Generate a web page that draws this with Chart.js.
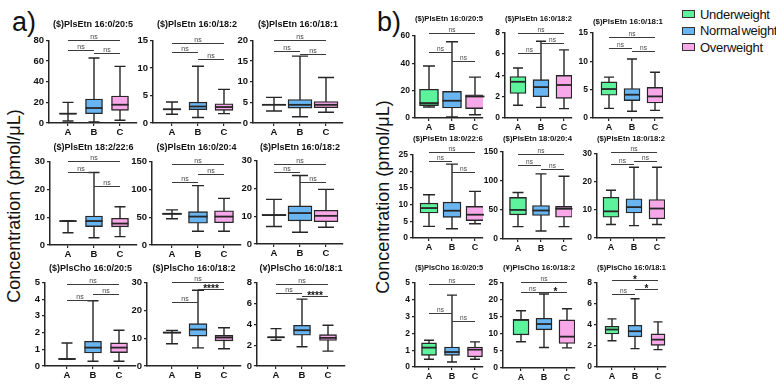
<!DOCTYPE html>
<html>
<head>
<meta charset="utf-8">
<script src="https://cdn.jsdelivr.net/npm/chart.js@4.4.1/dist/chart.umd.min.js"></script>
<style>
  body { margin: 0; width: 776px; height: 384px; position: relative; background: #fff; overflow: hidden;
         font-family: 'Liberation Sans', Arial, sans-serif; color: #111; }
  canvas { position: absolute; }
  .tag { position: absolute; font-size: 27px; line-height: 30px; }
  .ytitle { position: absolute; width: 320px; text-align: center; white-space: nowrap; transform: rotate(-90deg);
            font-size: 18px; line-height: 22px; }
  .legend { position: absolute; left: 682px; top: 6px; font-size: 13px; letter-spacing: -0.3px; word-spacing: -2px; }
  .legend div { height: 16.5px; display: flex; align-items: center; white-space: nowrap; }
  .legend span { display: inline-block; width: 11px; height: 6px; border: 1.5px solid #333; margin-right: 5px; }
</style>
</head>
<body>
<div class="tag" style="left:12px; top:7px;">a)</div>
<div class="tag" style="left:377px; top:7px;">b)</div>
<div class="ytitle" style="left:-146px; top:195px;">Concentration (pmol/μL)</div>
<div class="ytitle" style="left:223px; top:186px;">Concentration (pmol/μL)</div>
<div class="legend" id="legend"></div>
<script>
// groups and legend
const groups = ['A', 'B', 'C'];
const legendLabels = ['Underweight', 'Normal weight', 'Overweight'];

const titlesA = ['($)PlsEtn 16:0/20:5', '($)PlsEtn 16:0/18:2', '($)PlsEtn 16:0/18:1',
  '($)PlsEtn 18:2/22:6', '($)PlsEtn 16:0/20:4', '($)PlsEtn 16:0/18:2',
  '($)PlsCho 16:0/20:5', '($)PlsCho 16:0/18:2', '(¥)PlsCho 16:0/18:1'];
const titlesB = ['($)PlsEtn 16:0/20:5', '($)PlsEtn 16:0/18:2', '($)PlsEtn 16:0/18:1',
  '($)PlsEtn 18:0/22:6', '($)PlsEtn 18:0/20:4', '($)PlsEtn 18:0/18:2',
  '($)PlsCho 16:0/20:5', '(¥)PlsCho 16:0/18:2', '($)PlsCho 16:0/18:1'];

// y axis max and tick step of each subplot
const yMaxA = [80, 15, 20, 30, 150, 30, 5, 30, 8];
const yStepA = [20, 5, 5, 10, 50, 10, 1, 10, 2];
const yMaxB = [60, 8, 15, 25, 150, 30, 5, 25, 8];
const yStepB = [20, 2, 5, 5, 50, 10, 1, 5, 2];

// panel a) box stats, one [A, B, C] row per subplot
const loA = [[2, 1, 2.6], [1.6, 1, 1.7], [2.9, 1.5, 2.6], [4.4, 2.6, 3], [47, 24.7, 24.7],
  [6.3, 4.2, 6], [0.4, 0.28, 0.28], [8, 6.5, 6.2], [2.47, 1.84, 1.42]];
const q1A = [[8.7, 9, 12.3], [2.45, 2.4, 2.3], [4.35, 3.6, 3.7], [8.5, 6.6, 6.5], [55, 39, 40],
  [10.2, 8.3, 8], [0.4, 0.78, 0.8], [11.8, 10.7, 9], [2.72, 2.94, 2.44]];
const medA = [[9, 14.5, 17.7], [2.5, 3, 2.9], [4.4, 4.4, 4.4], [8.6, 8.6, 7.7], [56, 51, 51],
  [10.4, 11.1, 10.1], [0.42, 1.1, 1.1], [12, 13.1, 10.2], [2.75, 3.42, 2.69]];
const q3A = [[9.3, 23.2, 26.1], [2.55, 3.8, 3.5], [4.45, 5.7, 5.2], [8.7, 10.4, 9.6], [57, 60, 61.4],
  [10.6, 13.7, 12.1], [0.44, 1.48, 1.38], [12.2, 15.2, 11], [2.78, 3.9, 3]];
const hiA = [[20, 63, 54.8], [3.8, 10.3, 6.1], [6.2, 16.2, 11], [8.7, 26, 13.7], [63, 106.6, 83.7],
  [16, 24.6, 19.6], [1.38, 3.9, 2.14], [12.8, 27.2, 13.7], [3.58, 6.4, 3.9]];

// panel b)
const loB = [[8, 0.7, 2.4], [1.2, 1, 0.88], [1.7, 1.18, 1.35], [3.5, 2.8, 4.3], [21.3, 13.8, 21.3],
  [4.8, 4.4, 4.8], [0.46, 0.3, 0.46], [7.7, 6, 5.9], [2.5, 1.75, 1.65]];
const q1B = [[9, 7.3, 6.8], [2.3, 2, 1.85], [4, 3.06, 2.65], [7.5, 6.2, 5.2], [41.5, 40.4, 37.5],
  [7.4, 8.9, 6.8], [0.69, 0.69, 0.6], [9.7, 11.2, 7.2], [3.14, 2.86, 2.06]];
const medB = [[10.9, 12.6, 15.7], [3.4, 2.9, 3.1], [5.1, 4.1, 3.8], [9, 8.2, 7], [50, 49, 52],
  [9.5, 11, 10.5], [1.15, 0.89, 1.03], [14.1, 12.9, 9.2], [3.56, 3.4, 2.6]];
const q3B = [[21, 19.4, 17], [3.9, 3.6, 4], [6.35, 5.2, 5.4], [10.5, 10.8, 9.5], [71.5, 57.7, 56],
  [14.5, 14, 13.7], [1.43, 1.19, 1.19], [14.3, 14.6, 14.1], [3.87, 3.97, 3.14]];
const hiB = [[38, 55.7, 29.8], [4.7, 7.2, 6.4], [7.2, 10.4, 8.06], [13, 22.2, 14], [80, 112, 108],
  [17, 25.2, 25.2], [1.59, 4.27, 1.49], [16.8, 21.7, 17.4], [4.57, 6.48, 4.29]];

// comparison brackets: [from, to, height, label]
const sigA = [
  [[0, 2, 80, 'ns'], [0, 1, 71, 'ns'], [1, 2, 68, 'ns']],
  [[0, 2, 14.6, 'ns'], [0, 1, 12.9, 'ns'], [1, 2, 11.6, 'ns']],
  [[0, 2, 20, 'ns'], [0, 1, 17.4, 'ns'], [1, 2, 16.6, 'ns']],
  [[0, 2, 30.2, 'ns'], [0, 1, 26.3, 'ns'], [1, 2, 21, 'ns']],
  [[0, 2, 146, 'ns'], [0, 1, 113, 'ns'], [1, 2, 128, 'ns']],
  [[0, 2, 28.8, 'ns'], [0, 1, 25.8, 'ns'], [1, 2, 22.3, 'ns']],
  [[0, 2, 4.88, 'ns'], [0, 1, 3.94, 'ns'], [1, 2, 4.3, 'ns']],
  [[0, 2, 30, 'ns'], [0, 1, 23, 'ns'], [1, 2, 27.6, '****']],
  [[0, 2, 7.85, 'ns'], [0, 1, 6.96, 'ns'], [1, 2, 6.7, '****']]
];
const sigB = [
  [[0, 2, 61.7, 'ns'], [0, 1, 48.4, 'ns'], [1, 2, 41.6, 'ns']],
  [[0, 2, 8, 'ns'], [0, 1, 6.1, 'ns'], [1, 2, 7, 'ns']],
  [[0, 2, 14.3, 'ns'], [0, 1, 12.35, 'ns'], [1, 2, 11.8, 'ns']],
  [[0, 2, 25.8, 'ns'], [0, 1, 23, 'ns'], [1, 2, 19.7, 'ns']],
  [[0, 2, 147, 'ns'], [0, 1, 127, 'ns'], [1, 2, 121, 'ns']],
  [[0, 2, 30.7, 'ns'], [0, 1, 26.4, 'ns'], [1, 2, 27.4, 'ns']],
  [[0, 2, 4.9, 'ns'], [0, 1, 3.21, 'ns'], [1, 2, 2.72, 'ns']],
  [[0, 2, 25.3, 'ns'], [0, 1, 22.2, 'ns'], [1, 2, 22.2, '*']],
  [[0, 2, 8.3, '*'], [0, 1, 6.9, 'ns'], [1, 2, 7.37, '*']]
];

// page placement: [axis left, plot top, plot bottom, A centre, box width, title y]
const layoutA = [[49, 40, 123, 68, 17, 24], [153, 40, 123, 172, 18, 24], [253, 40, 123, 274, 24, 24],
  [50, 161, 245, 68, 17, 147], [152, 161, 245, 172, 19, 147], [257, 160, 244, 274, 24, 147],
  [45, 282, 366, 67, 17, 268], [147, 282, 366, 172, 18, 268], [257, 282, 366, 276, 17, 268]];
const layoutB = [[415, 36, 118, 429, 19, 19], [505, 33, 118, 518, 16, 19], [593, 33, 118, 609, 16, 22],
  [413, 155, 238, 429, 18, 139], [503, 152, 239, 518, 17, 139], [597, 154, 238, 611, 16, 139],
  [415, 283, 367, 429, 15, 268], [503, 283, 368, 521, 16, 268], [597, 283, 367, 612, 14, 268]];

const GREEN = '#5cf39c', BLUE = '#69b5f1', PINK = '#f8a8e8', INK = '#262626';

Chart.defaults.font.family = "'Liberation Sans', Arial, sans-serif";
Chart.defaults.color = '#111';

// whiskers under the box, median + brackets on top
const boxPlot = {
  id: 'boxPlot',
  beforeDatasetsDraw(chart, args, o) {
    const ctx = chart.ctx, y = chart.scales.y;
    const bars = chart.getDatasetMeta(0).data;
    ctx.save();
    ctx.strokeStyle = INK;
    ctx.lineWidth = 1.4;
    bars.forEach((bar, i) => {
      const lo = y.getPixelForValue(o.lo[i]), hi = y.getPixelForValue(o.hi[i]);
      const c = o.cap / 2;
      ctx.beginPath();
      ctx.moveTo(bar.x, lo); ctx.lineTo(bar.x, hi);
      ctx.moveTo(bar.x - c, lo); ctx.lineTo(bar.x + c, lo);
      ctx.moveTo(bar.x - c, hi); ctx.lineTo(bar.x + c, hi);
      ctx.stroke();
    });
    ctx.restore();
  },
  afterDatasetsDraw(chart, args, o) {
    const ctx = chart.ctx, y = chart.scales.y;
    const bars = chart.getDatasetMeta(0).data;
    ctx.save();
    ctx.strokeStyle = INK;
    ctx.lineWidth = 1.8;
    bars.forEach((bar, i) => {
      const m = y.getPixelForValue(o.med[i]);
      ctx.beginPath();
      ctx.moveTo(bar.x - bar.width / 2, m); ctx.lineTo(bar.x + bar.width / 2, m);
      ctx.stroke();
    });
    ctx.lineWidth = 1;
    ctx.strokeStyle = '#3a3a3a';
    ctx.textAlign = 'center';
    ctx.textBaseline = 'alphabetic';
    o.sig.forEach(([i, j, v, label]) => {
      const x1 = bars[i].x, x2 = bars[j].x, py = Math.round(y.getPixelForValue(v)) + 0.5;
      ctx.beginPath(); ctx.moveTo(x1, py); ctx.lineTo(x2, py); ctx.stroke();
      if (label === 'ns') {
        ctx.fillStyle = '#444';
        ctx.font = o.nsSize + "px 'Liberation Sans', Arial";
        ctx.fillText(label, (x1 + x2) / 2, py - 2);
      } else {
        ctx.fillStyle = '#111';
        ctx.font = "bold 10px 'Liberation Sans', Arial";
        ctx.fillText(label, (x1 + x2) / 2, py + 2.5);
      }
    });
    ctx.restore();
  }
};

const YW = 28, XH = 16, RP = 2, PADTOP = 3;

function drawPanel(p) {
  p.layout.forEach((L, n) => {
    const [left, top, bottom, ax, boxW, titleY] = L;
    const right = ax + 2 * p.spacing + p.rightGap;
    const titleH = p.titleSize * 1.2;
    const pb = (top - titleY) - titleH / 2;
    const TP = PADTOP + titleH + pb;
    const w = YW + (right - left) + RP;
    const h = TP + (bottom - top) + XH;

    const cv = document.createElement('canvas');
    cv.width = w; cv.height = Math.round(h);
    cv.style.left = (left - YW) + 'px';
    cv.style.top = (top - TP) + 'px';
    document.body.appendChild(cv);

    new Chart(cv, {
      type: 'bar',
      data: {
        datasets: [{
          data: groups.map((g, k) => ({ x: k, y: [p.q1[n][k], p.q3[n][k]] })),
          backgroundColor: p.fills,
          borderColor: INK,
          borderWidth: 1.4,
          borderSkipped: false,
          barThickness: boxW
        }]
      },
      options: {
        responsive: false,
        animation: false,
        layout: { padding: { top: PADTOP, right: RP, left: 0, bottom: 0 } },
        plugins: {
          legend: { display: false },
          tooltip: { enabled: false },
          title: {
            display: true, text: p.titles[n], fullSize: false, color: '#111',
            font: { size: p.titleSize, weight: 'bold' }, padding: { top: 0, bottom: pb }
          },
          boxPlot: {
            lo: p.lo[n], med: p.med[n], hi: p.hi[n], sig: p.sig[n],
            cap: Math.round(boxW * 0.65), nsSize: p.nsSize
          }
        },
        scales: {
          x: {
            type: 'linear',
            offset: false,
            min: -(ax - left) / p.spacing,
            max: 2 + p.rightGap / p.spacing,
            afterBuildTicks: s => { s.ticks = groups.map((g, k) => ({ value: k })); },
            afterFit: s => { s.height = XH; },
            ticks: { callback: v => groups[v], font: { size: p.labelSize, weight: 'bold' }, color: '#111', padding: 1, maxRotation: 0, autoSkip: false },
            grid: { offset: false, drawOnChartArea: false, tickLength: 3, color: INK, lineWidth: 1.2 },
            border: { color: INK, width: 1.5 }
          },
          y: {
            min: 0, max: p.yMax[n],
            afterFit: s => { s.width = YW; },
            ticks: { stepSize: p.yStep[n], font: { size: p.tickSize, weight: 'bold' }, color: '#111', padding: 2 },
            grid: { drawOnChartArea: false, tickLength: 3, color: INK, lineWidth: 1.2 },
            border: { color: INK, width: 1.5 }
          }
        }
      },
      plugins: [boxPlot]
    });
  });
}

drawPanel({
  titles: titlesA, yMax: yMaxA, yStep: yStepA, lo: loA, q1: q1A, med: medA, q3: q3A, hi: hiA, sig: sigA,
  fills: ['rgba(255,255,255,0)', BLUE, PINK], layout: layoutA,
  spacing: 26, rightGap: 17, titleSize: 9, tickSize: 9.5, labelSize: 9.5, nsSize: 7
});
drawPanel({
  titles: titlesB, yMax: yMaxB, yStep: yStepB, lo: loB, q1: q1B, med: medB, q3: q3B, hi: hiB, sig: sigB,
  fills: [GREEN, BLUE, PINK], layout: layoutB,
  spacing: 23, rightGap: 8, titleSize: 8, tickSize: 8.5, labelSize: 9, nsSize: 6.5
});

// legend on the right
const legend = document.getElementById('legend');
[GREEN, BLUE, PINK].forEach((c, i) => {
  const row = document.createElement('div');
  row.innerHTML = '<span style="background:' + c + '"></span>' + legendLabels[i];
  legend.appendChild(row);
});
</script>
</body>
</html>
